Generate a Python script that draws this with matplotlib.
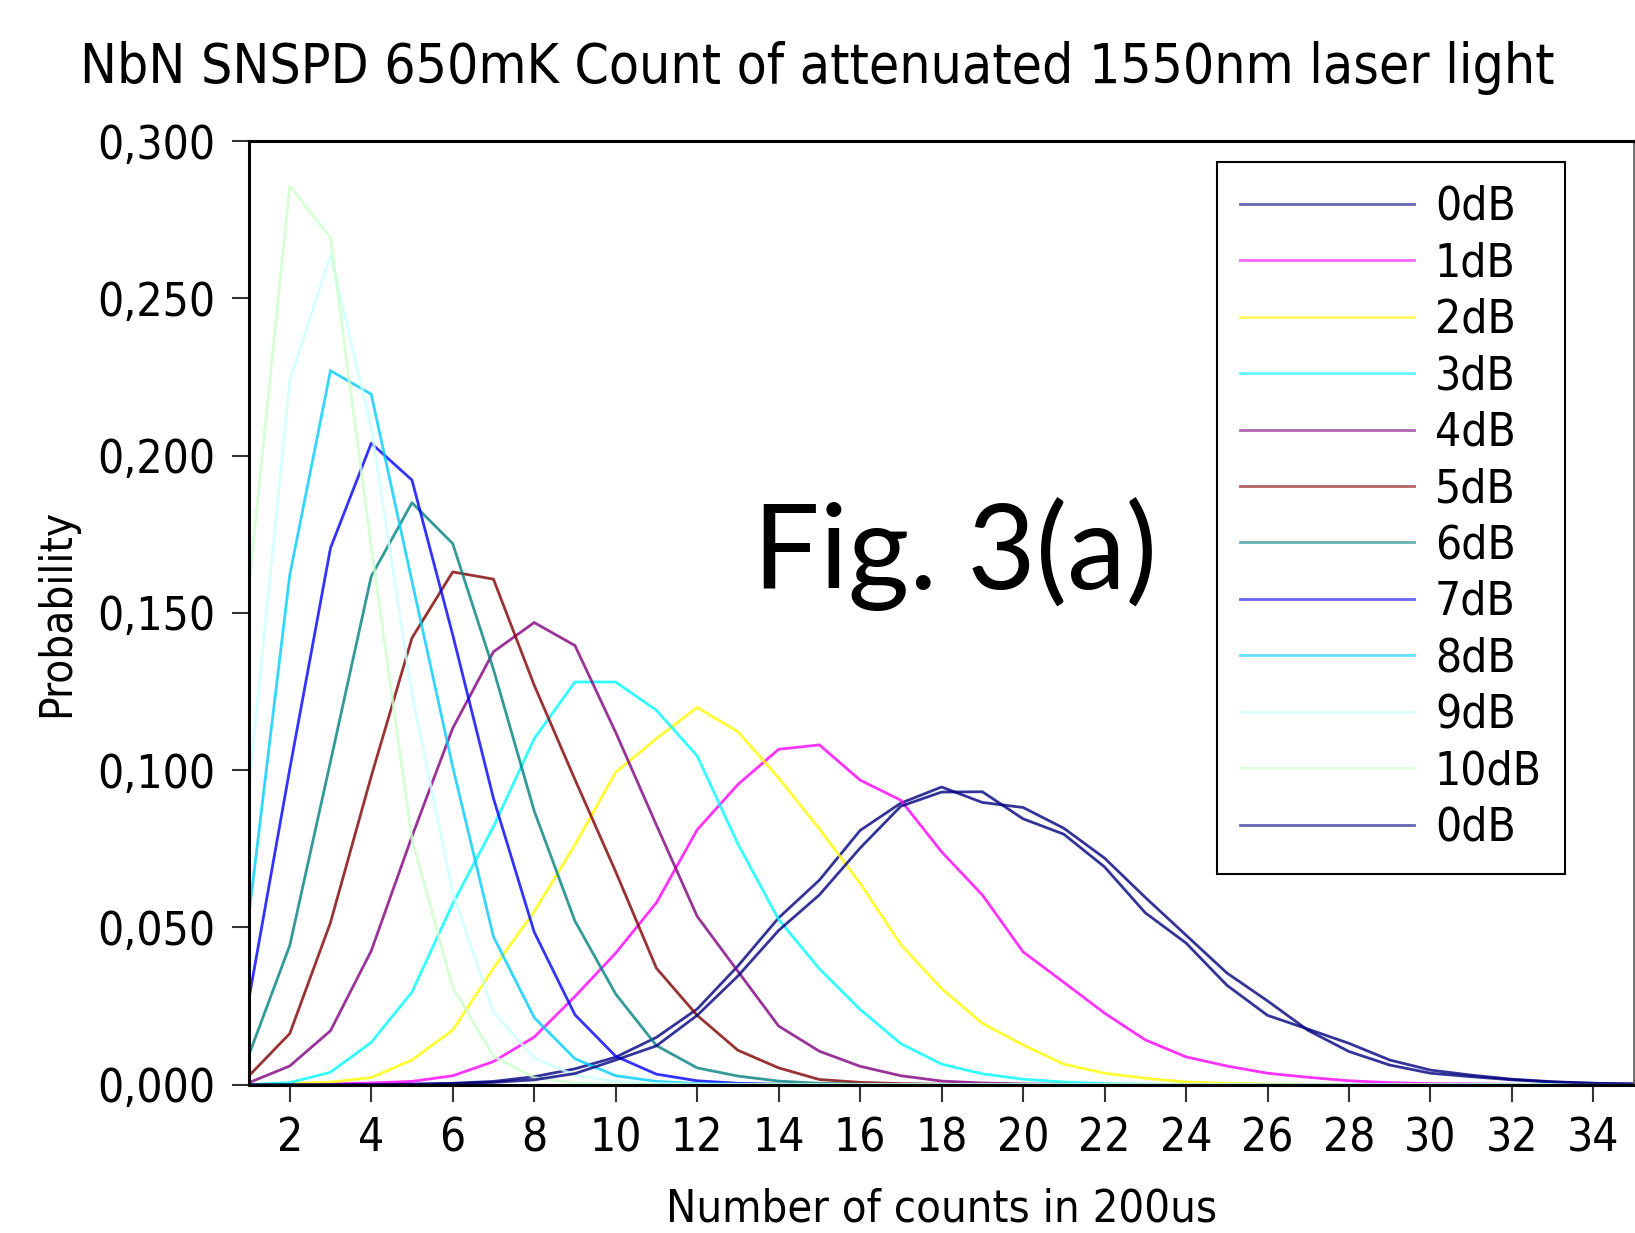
import os
import matplotlib as mpl
mpl.use('Agg')
import matplotlib.pyplot as plt
from matplotlib import font_manager as fm
from matplotlib.ticker import FuncFormatter, MultipleLocator

# counts per 200us window, x = 1..35
counts = [1, 2, 3, 4, 5, 6, 7, 8, 9, 10, 11, 12, 13, 14, 15, 16, 17, 18,
          19, 20, 21, 22, 23, 24, 25, 26, 27, 28, 29, 30, 31, 32, 33, 34, 35]

p0a = [0, 0, 0, 0, 0.0001, 0.0004, 0.0010, 0.0025, 0.0050, 0.0087, 0.0150, 0.0240,
       0.0377, 0.0530, 0.0650, 0.0808, 0.0895, 0.0946, 0.0897, 0.0881, 0.0815, 0.0720,
       0.0595, 0.0475, 0.0355, 0.0266, 0.0172, 0.0105, 0.0062, 0.0036, 0.0025, 0.0015,
       0.0008, 0.0004, 0.0002]
p1 = [0, 0, 0.0002, 0.0005, 0.0010, 0.0028, 0.0073, 0.0151, 0.0280, 0.0418, 0.0578, 0.0810,
      0.0954, 0.1066, 0.1080, 0.0968, 0.0904, 0.0740, 0.0603, 0.0422, 0.0325, 0.0227,
      0.0142, 0.0088, 0.0059, 0.0036, 0.0023, 0.0012, 0.0006, 0.0003, 0.0002, 0.0001,
      0, 0, 0]
p2 = [0, 0.0003, 0.0008, 0.0022, 0.0078, 0.0173, 0.0370, 0.0550, 0.0762, 0.0993, 0.1100,
      0.1199, 0.1122, 0.0975, 0.0813, 0.0640, 0.0445, 0.0305, 0.0195, 0.0126, 0.0065,
      0.0036, 0.0020, 0.0008, 0.0004, 0.0002, 0.0001, 0, 0, 0, 0, 0, 0, 0, 0]
p3 = [0, 0.0006, 0.0039, 0.0134, 0.0294, 0.0575, 0.0820, 0.1100, 0.1280, 0.1280, 0.1190,
      0.1045, 0.0765, 0.0525, 0.0368, 0.0239, 0.0130, 0.0065, 0.0034, 0.0017, 0.0008,
      0.0003, 0.0001, 0, 0, 0, 0, 0, 0, 0, 0, 0, 0, 0, 0]
p4 = [0.0006, 0.0059, 0.0171, 0.0425, 0.0789, 0.1133, 0.1376, 0.1469, 0.1396, 0.1120,
      0.0825, 0.0535, 0.0360, 0.0186, 0.0106, 0.0058, 0.0028, 0.0011, 0.0005, 0.0002,
      0.0001, 0, 0, 0, 0, 0, 0, 0, 0, 0, 0, 0, 0, 0, 0]
p5 = [0.0028, 0.0162, 0.0515, 0.0980, 0.1420, 0.1630, 0.1607, 0.1270, 0.0970, 0.0677,
      0.0370, 0.0220, 0.0109, 0.0053, 0.0016, 0.0007, 0.0003, 0.0001, 0, 0, 0, 0, 0, 0,
      0, 0, 0, 0, 0, 0, 0, 0, 0, 0, 0]
p6 = [0.0095, 0.0442, 0.1027, 0.1616, 0.1850, 0.1720, 0.1320, 0.0870, 0.0520, 0.0288,
      0.0124, 0.0053, 0.0027, 0.0011, 0.0004, 0.0001, 0, 0, 0, 0, 0, 0, 0, 0, 0, 0, 0,
      0, 0, 0, 0, 0, 0, 0, 0]
p7 = [0.0274, 0.1003, 0.1706, 0.2039, 0.1922, 0.1430, 0.0910, 0.0485, 0.0222, 0.0090,
      0.0033, 0.0012, 0.0004, 0.0001, 0, 0, 0, 0, 0, 0, 0, 0, 0, 0, 0, 0, 0, 0, 0, 0,
      0, 0, 0, 0, 0]
p8 = [0.0542, 0.1620, 0.2270, 0.2195, 0.1600, 0.1010, 0.0470, 0.0213, 0.0082, 0.0028,
      0.0010, 0.0003, 0.0001, 0, 0, 0, 0, 0, 0, 0, 0, 0, 0, 0, 0, 0, 0, 0, 0, 0, 0, 0,
      0, 0, 0]
p9 = [0.0950, 0.2238, 0.2637, 0.2090, 0.1240, 0.0610, 0.0230, 0.0084, 0.0030, 0.0010,
      0.0003, 0.0001, 0, 0, 0, 0, 0, 0, 0, 0, 0, 0, 0, 0, 0, 0, 0, 0, 0, 0, 0, 0, 0, 0, 0]
p10 = [0.1589, 0.2857, 0.2693, 0.1710, 0.0780, 0.0310, 0.0090, 0.0022, 0.0005, 0.0001,
       0, 0, 0, 0, 0, 0, 0, 0, 0, 0, 0, 0, 0, 0, 0, 0, 0, 0, 0, 0, 0, 0, 0, 0, 0]
p0b = [0, 0, 0, 0, 0.0001, 0.0003, 0.0007, 0.0015, 0.0035, 0.0078, 0.0123, 0.0220,
       0.0345, 0.0490, 0.0603, 0.0752, 0.0885, 0.0930, 0.0931, 0.0845, 0.0796, 0.0692,
       0.0546, 0.0450, 0.0316, 0.0220, 0.0176, 0.0131, 0.0078, 0.0046, 0.0030, 0.0017,
       0.0009, 0.0004, 0.0002]

series = [p0a, p1, p2, p3, p4, p5, p6, p7, p8, p9, p10, p0b]
labels = ['0dB', '1dB', '2dB', '3dB', '4dB', '5dB', '6dB', '7dB', '8dB', '9dB', '10dB', '0dB']
colors = ['#000080', '#FF00FF', '#FFFF00', '#00FFFF', '#800080', '#800000',
          '#008080', '#0000FF', '#00CCFF', '#CCFFFF', '#CCFFCC', '#000080']

# the original looks like a narrow Tahoma, condensed DejaVu is the closest thing here
cond = None
for f in fm.fontManager.ttflist:
    if os.path.basename(f.fname) == 'DejaVuSansCondensed.ttf':
        cond = f.fname
        break

def font(size):
    if cond:
        return fm.FontProperties(fname=cond, size=size)
    return fm.FontProperties(family='DejaVu Sans', size=size * 0.84)

def comma(v, pos):
    return '{:.3f}'.format(v).replace('.', ',')

fig = plt.figure(figsize=(16.35, 12.33), dpi=100)
ax = fig.add_axes([0.1523, 0.1204, 0.8472, 0.7652])

for y, lab, c in zip(series, labels, colors):
    ax.plot(counts, y, color=c, lw=2.0, alpha=0.8, label=lab)

ax.set_xlim(1, 35)
ax.set_ylim(0, 0.3)
ax.set_xticks(range(2, 35, 2))
ax.yaxis.set_major_locator(MultipleLocator(0.05))
ax.yaxis.set_major_formatter(FuncFormatter(comma))
ax.tick_params(direction='out', length=12, width=1.5, color='#333333')
ax.tick_params(axis='y', pad=12)
ax.tick_params(axis='x', pad=11)
for lbl in ax.get_xticklabels() + ax.get_yticklabels():
    lbl.set_fontproperties(font(33))

for s in ['left', 'top', 'bottom']:
    ax.spines[s].set_linewidth(2.2)
    ax.spines[s].set_color('black')
ax.spines['right'].set_linewidth(1.2)
ax.spines['right'].set_color('#555555')

leg = ax.legend(loc='upper left', bbox_to_anchor=(0.699, 0.978), prop=font(33),
                handlelength=3.8, handletextpad=0.45, labelspacing=0.25,
                borderpad=0.5, borderaxespad=0, fancybox=False, framealpha=1)
leg.get_frame().set_edgecolor('black')
leg.get_frame().set_linewidth(1.5)
for h in leg.get_lines():
    h.set_linewidth(2.0)
    h.set_alpha(0.6)

fig.text(0.5, 1 - 83 / 1233, 'NbN SNSPD 650mK Count of attenuated 1550nm laser light',
         ha='center', va='baseline', fontproperties=font(39.5))
fig.text(942 / 1635, 1 - 1222 / 1233, 'Number of counts in 200us',
         ha='center', va='baseline', fontproperties=font(32.5))
fig.text(57 / 1635, 1 - 613 / 1233, 'Probability', rotation=90,
         ha='center', va='center', fontproperties=font(31.5))
fig.text(753 / 1635, 1 - 589 / 1233, 'Fig. 3(a)', ha='left', va='baseline',
         family=['Lato', 'DejaVu Sans'], fontsize=85)

fig.savefig('out.png', dpi=100)
plt.close()
